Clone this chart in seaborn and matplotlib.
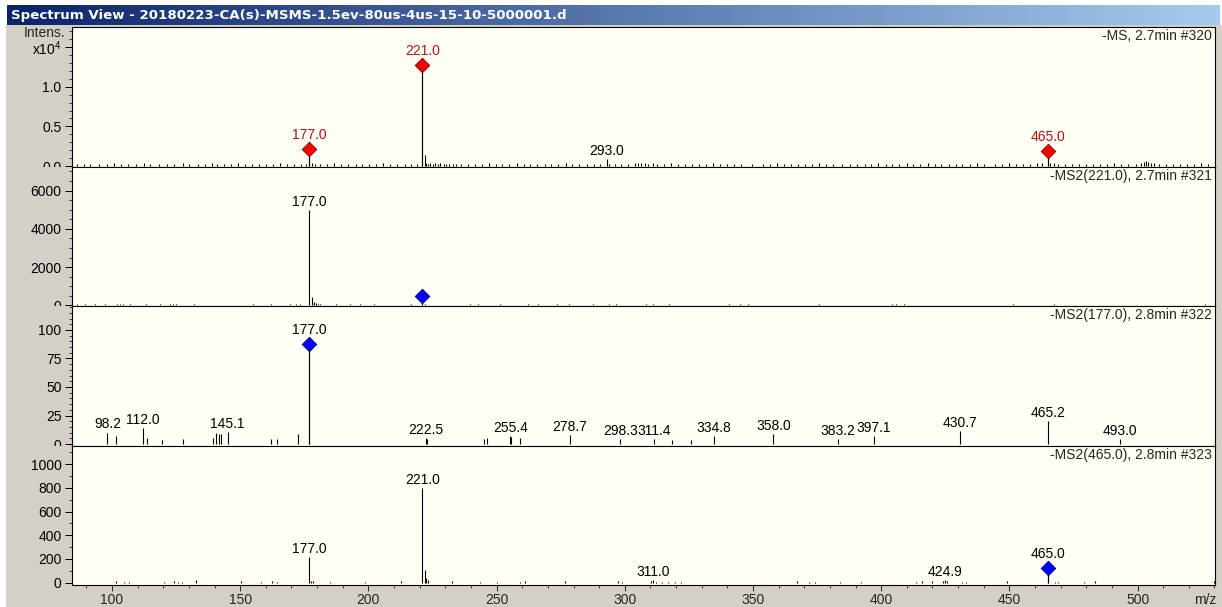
import numpy as np
import pandas as pd
import matplotlib
matplotlib.use("Agg")
import matplotlib.pyplot as plt
import seaborn as sns
from matplotlib.ticker import MultipleLocator, FixedLocator, NullLocator
from matplotlib.transforms import Bbox, TransformedBbox

# ---------------- data ----------------
title = "Spectrum View - 20180223-CA(s)-MSMS-1.5ev-80us-4us-15-10-5000001.d"
scan_labels = ["-MS, 2.7min #320", "-MS2(221.0), 2.7min #321",
               "-MS2(177.0), 2.8min #322", "-MS2(465.0), 2.8min #323"]

# Panel 1: MS (intensity x10^4)
ms1_label_mz = [177.0, 221.0, 293.0, 465.0]
ms1_label_int = [0.215, 1.275, 0.085, 0.195]
ms1_label_txt = ["177.0", "221.0", "293.0", "465.0"]
ms1_label_red = [True, True, False, True]
ms1_minor = [(178.0, .035), (179.2, .02), (222.0, .14), (222.6, .04), (223.4, .03),
             (466.0, .04), (294.0, .02)]
ms1_noise = [(86.5,.024),(88.9,.020),(91.6,.030),(94.8,.022),(97.9,.026),(100.6,.032),(103.4,.020),
             (106.2,.028),(109.5,.024),(112.3,.035),(115.0,.022),(118.4,.026),(121.6,.030),(124.3,.020),
             (127.5,.034),(130.2,.024),(133.6,.028),(136.4,.022),(139.1,.032),(141.0,.026),(143.8,.030),
             (146.5,.024),(149.2,.036),(151.9,.022),(154.6,.028),(157.4,.020),(160.2,.030),(162.8,.026),
             (165.5,.032),(168.3,.022),(171.1,.028),(173.6,.024),(175.5,.030),(181.3,.026),(184.0,.022),
             (186.7,.032),(189.5,.024),(192.2,.028),(195.0,.020),(197.6,.030),(200.3,.026),(203.1,.022),
             (205.8,.032),(208.6,.024),(211.3,.028),(214.1,.022),(216.8,.026),(219.0,.030),(224.2,.034),
             (225.1,.030),(226.0,.036),(227.0,.030),(228.1,.032),(229.3,.028),(230.4,.030),(231.6,.026),
             (232.9,.026),(234.3,.028),(236.0,.026),(238.7,.022),(241.4,.030),(244.2,.024),(246.9,.032),
             (249.6,.022),(252.3,.028),(255.0,.024),(257.8,.034),(260.5,.026),(263.2,.022),(265.9,.030),
             (268.7,.024),(271.4,.028),(274.1,.020),(276.9,.032),(279.6,.026),(282.3,.022),(285.1,.030),
             (287.8,.024),(290.4,.028),(296.0,.024),(298.7,.030),(301.4,.022),(304.0,.032),(305.3,.034),
             (306.5,.036),(307.8,.032),(309.2,.028),(311.0,.034),(312.6,.030),(315.2,.026),(318.0,.032),
             (320.7,.024),(323.4,.028),(326.2,.022),(328.9,.030),(331.6,.026),(334.4,.032),(337.1,.024),
             (339.8,.028),(342.6,.022),(345.3,.030),(349.5,.024),(353.8,.028),(356.5,.022),(359.2,.032),
             (362.0,.026),(364.7,.024),(367.4,.030),(370.2,.022),(372.9,.028),(375.6,.032),(378.4,.024),
             (381.1,.026),(384.8,.022),(388.0,.030),(390.7,.024),(393.5,.028),(396.2,.022),(398.9,.032),
             (401.7,.026),(404.4,.024),(407.1,.030),(409.9,.034),(412.6,.028),(415.3,.022),(418.1,.032),
             (420.8,.026),(423.5,.024),(426.3,.030),(429.0,.022),(431.7,.028),(434.5,.024),(437.2,.032),
             (440.0,.022),(444.5,.028),(447.2,.024),(449.9,.032),(452.7,.026),(455.4,.022),(458.1,.030),
             (460.9,.032),(462.8,.034),(467.5,.032),(469.0,.030),(471.8,.024),(474.5,.028),(477.3,.022),
             (480.0,.030),(482.7,.024),(485.5,.028),(488.2,.022),(491.0,.032),(493.7,.024),(496.4,.026),
             (499.2,.030),(501.5,.036),(502.6,.045),(503.4,.060),(504.2,.050),(505.1,.040),(506.3,.032),
             (508.5,.028),(511.2,.024),(514.0,.030),(516.7,.022),(519.4,.028),(522.2,.024),(524.9,.032),
             (527.6,.022)]

# Panel 2: MS2(221.0)
ms2a_label_mz = [177.0]
ms2a_label_int = [4990]
ms2a_label_txt = ["177.0"]
ms2a_prec_mz = [221.0]
ms2a_prec_int = [480]
ms2a_minor = [(178.0, 420), (178.7, 150), (179.5, 110), (180.3, 90), (181.2, 70)]
ms2a_noise = [(86.4,60),(89.5,50),(93.3,55),(97.2,45),(101.8,80),(103.0,90),(104.1,70),(107.2,50),
              (113.3,45),(118.7,55),(122.6,70),(123.8,85),(124.9,65),(131.9,60),(148.8,40),(155.0,45),
              (161.9,50),(169.6,55),(171.9,70),(173.5,50),(187.4,50),(192.7,45),(196.6,50),(202.0,45),
              (207.4,40),(216.6,55),(222.2,90),(239.6,50),(242.8,65),(251.3,45),(262.1,50),(266.0,45),
              (273.7,50),(278.3,45),(287.6,50),(293.7,45),(296.5,50),(308.1,55),(311.2,50),(317.3,45),
              (340.5,50),(345.1,55),(348.1,50),(375.9,45),(404.1,60),(405.9,55),(409.0,50),(451.4,45),
              (467.3,80),(526.2,50)]

# Panel 3: MS2(177.0)
ms2b_label_mz = [98.2, 112.0, 145.1, 222.5, 255.4, 278.7, 298.3, 311.4, 334.8, 358.0,
                 383.2, 397.1, 430.7, 465.2, 493.0]
ms2b_label_int = [10, 14, 10.7, 5, 7, 8, 4, 4, 7, 8.5, 4, 7, 11, 20, 4]
ms2b_label_txt = ["98.2", "112.0", "145.1", "222.5", "255.4", "278.7", "298.3", "311.4", "334.8",
                  "358.0", "383.2", "397.1", "430.7", "465.2", "493.0"]
ms2b_prec_mz = [177.0]
ms2b_prec_int = [88]
ms2b_minor = [(101.4,7),(113.5,5),(119.5,3.5),(127.7,4.5),(139.2,5),(140.7,9.5),(141.6,8.4),
              (142.7,8.4),(162.1,4.6),(164.4,4.6),(172.7,8.4),(222.9,4),(245.0,4),(246.2,5),
              (255.8,6),(259.0,5),(318.3,3.5),(325.7,3.5)]

# Panel 4: MS2(465.0)
ms2c_label_mz = [177.0, 221.0, 311.0, 424.9]
ms2c_label_int = [213, 795, 20, 25]
ms2c_label_txt = ["177.0", "221.0", "311.0", "424.9"]
ms2c_prec_mz = [465.0]
ms2c_prec_int = [124]
ms2c_minor = [(222.0,107),(222.6,40),(223.2,20),(177.8,15),(178.5,12)]
ms2c_noise = [(101.7,18),(104.6,10),(106.5,8),(120.2,10),(124.1,12),(125.7,9),(127.3,10),(132.8,25),
              (150.4,15),(158.0,10),(162.6,12),(164.5,10),(185.1,10),(198.6,10),(212.7,12),(232.8,12),
              (243.4,10),(250.1,8),(259.0,10),(261.0,14),(276.6,12),(297.5,14),(299.0,8),(310.3,12),
              (312.0,10),(314.5,8),(316.8,8),(319.6,8),(322.0,8),(367.2,18),(372.0,8),(374.0,8),
              (384.0,8),(392.0,8),(413.6,10),(416.0,12),(420.0,16),(424.0,12),(425.7,14),(431.5,10),
              (433.0,10),(449.0,12),(467.8,10),(469.0,8),(479.0,10),(483.5,12),(530.0,15)]

y_ticks = [[0.0, 0.5, 1.0, 1.5], [0, 2000, 4000, 6000], [0, 25, 50, 75, 100],
           [0, 200, 400, 600, 800, 1000]]
y_ticklabels = [["0.0", "0.5", "1.0", r"x10$^{\mathregular{4}}$"], ["0", "2000", "4000", "6000"],
                ["0", "25", "50", "75", "100"], ["0", "200", "400", "600", "800", "1000"]]
y_minor = [0.1, 500, 5, 100]
y_limits = [(-0.006, 1.753), (-35, 7260), (-1.3, 121), (-19, 1156)]
x_ticks = [100, 150, 200, 250, 300, 350, 400, 450, 500]

# ---------------- style ----------------
sns.set_style("white")
plt.rcParams['font.family'] = ['Liberation Sans', 'DejaVu Sans']
plt.rcParams['font.size'] = 10

W, H = 1222, 607
GREY = '#d4d0c8'
FACE = '#fffff5'
fig = plt.figure(figsize=(W / 100, H / 100), dpi=100)
fig.patch.set_facecolor('white')


def rect(x0, y0, x1, y1):
    return [x0 / W, 1 - y1 / H, (x1 - x0) / W, (y1 - y0) / H]


bg = fig.add_axes(rect(6, 25, W, H), zorder=-10)
bg.set_facecolor(GREY)
bg.set_xticks([])
bg.set_yticks([])
for s in bg.spines.values():
    s.set_visible(False)

# title bar with gradient
tax = fig.add_axes(rect(7, 5, 1220, 25))
c0 = np.array([10, 36, 106]) / 255
c1 = np.array([166, 202, 240]) / 255
t = np.linspace(0, 1, 256)[None, :, None]
grad = c0 + (c1 - c0) * t
tax.imshow(grad, aspect='auto', extent=(0, 1, 0, 1))
tax.set_axis_off()
tax.text(0.003, 0.5, title, color='white', fontweight='bold', fontsize=9.6,
         family=['DejaVu Sans'], va='center', ha='left', transform=tax.transAxes)

bounds = [(27, 166.5), (166.5, 306), (306, 445.5), (445.5, 585)]
X0, X1 = 72, 1215
XLIM = (84.4, 530.2)

axes = []
for i, (t0, t1) in enumerate(bounds):
    ax = fig.add_axes(rect(X0, t0, X1, t1))
    ax.set_facecolor(FACE)
    ax.set_xlim(*XLIM)
    ax.set_ylim(*y_limits[i])
    for s in ax.spines.values():
        s.set_visible(True)
        s.set_color('black')
        s.set_linewidth(0.8)
    ax.yaxis.set_major_locator(FixedLocator(y_ticks[i]))
    ax.set_yticklabels(y_ticklabels[i])
    ax.yaxis.set_minor_locator(MultipleLocator(y_minor[i]))
    ax.tick_params(axis='y', which='major', direction='out', length=5, width=0.7,
                   labelsize=10, pad=2.5, left=True, colors='black')
    ax.tick_params(axis='y', which='minor', direction='out', length=2.5, width=0.6, left=True)
    if i < 3:
        ax.xaxis.set_major_locator(NullLocator())
        ax.xaxis.set_minor_locator(NullLocator())
    else:
        ax.xaxis.set_major_locator(FixedLocator(x_ticks))
        ax.xaxis.set_minor_locator(MultipleLocator(10))
        ax.tick_params(axis='x', which='major', direction='out', length=4, width=0.7,
                       labelsize=10, pad=1.5, bottom=True)
        ax.tick_params(axis='x', which='minor', direction='out', length=2.5, width=0.6, bottom=True)
    ax.text(1 - 3 / (X1 - X0), 1 - 9 / (t1 - t0), scan_labels[i], transform=ax.transAxes,
            ha='right', va='center', fontsize=10)
    axes.append(ax)


def stems(ax, pairs, lw=0.8):
    df = pd.DataFrame(pairs, columns=['mz', 'inten'])
    ax.vlines(df['mz'], 0, df['inten'], color='black', lw=lw, zorder=2)


def labeled(ax, mz, inten, txt, colors=None, offset=3.0):
    ax.vlines(mz, 0, inten, color='black', lw=0.8, zorder=3)
    for k, (m, h, s) in enumerate(zip(mz, inten, txt)):
        c = colors[k] if colors else 'black'
        ax.annotate(s, xy=(m, h), xytext=(0, offset), textcoords='offset points',
                    ha='center', va='baseline', fontsize=10, color=c, zorder=6)


def diamonds(ax, mz, inten, face, edge):
    df = pd.DataFrame({'mz': mz, 'inten': inten})
    ax.vlines(df['mz'], 0, df['inten'], color='black', lw=0.8, zorder=3)
    sns.scatterplot(data=df, x='mz', y='inten', ax=ax, marker='D', s=55, color=face,
                    edgecolor=edge, linewidth=0.6, zorder=5, legend=False, clip_on=False)
    ax.set_xlabel('')
    ax.set_ylabel('')


RED_TXT = '#a81414'

# Panel 1
a = axes[0]
stems(a, ms1_noise, lw=0.8)
stems(a, ms1_minor)
red_idx = [k for k, r in enumerate(ms1_label_red) if r]
blk_idx = [k for k, r in enumerate(ms1_label_red) if not r]
labeled(a, [ms1_label_mz[k] for k in red_idx], [ms1_label_int[k] for k in red_idx],
        [ms1_label_txt[k] for k in red_idx], colors=[RED_TXT] * len(red_idx), offset=7.2)
labeled(a, [ms1_label_mz[k] for k in blk_idx], [ms1_label_int[k] for k in blk_idx],
        [ms1_label_txt[k] for k in blk_idx])
diamonds(a, [ms1_label_mz[k] for k in red_idx], [ms1_label_int[k] for k in red_idx],
         '#ff0000', '#700000')

# Panel 2
a = axes[1]
stems(a, ms2a_noise, lw=0.8)
stems(a, ms2a_minor)
labeled(a, ms2a_label_mz, ms2a_label_int, ms2a_label_txt)
diamonds(a, ms2a_prec_mz, ms2a_prec_int, '#0000ff', '#000070')

# Panel 3
a = axes[2]
stems(a, ms2b_minor)
labeled(a, ms2b_label_mz, ms2b_label_int, ms2b_label_txt)
diamonds(a, ms2b_prec_mz, ms2b_prec_int, '#0000ff', '#000070')
labeled(a, ms2b_prec_mz, ms2b_prec_int, ["177.0"], offset=7.2)

# Panel 4
a = axes[3]
stems(a, ms2c_noise, lw=0.8)
stems(a, ms2c_minor)
labeled(a, ms2c_label_mz, ms2c_label_int, ms2c_label_txt)
diamonds(a, ms2c_prec_mz, ms2c_prec_int, '#0000ff', '#000070')
labeled(a, ms2c_prec_mz, ms2c_prec_int, ["465.0"], offset=7.2)

# extra annotations
fig.text(65 / W, 1 - 33 / H, "Intens.", ha='right', va='center', fontsize=10)
fig.text(1205 / W, 1 - 600 / H, "m/z", ha='center', va='center', fontsize=10)

# clip y tick labels at panel boundaries
fig.canvas.draw()
for i, ax in enumerate(axes):
    t0, t1 = bounds[i]
    ybot = 0.0 if i == 3 else 1 - t1 / H
    ytop = 1 - t0 / H
    cb = TransformedBbox(Bbox.from_extents(0, ybot, 1, ytop), fig.transFigure)
    for lab in ax.get_yticklabels():
        lab.set_clip_box(cb)
        lab.set_clip_on(True)

fig.savefig("out.png", dpi=100, facecolor=fig.get_facecolor())
